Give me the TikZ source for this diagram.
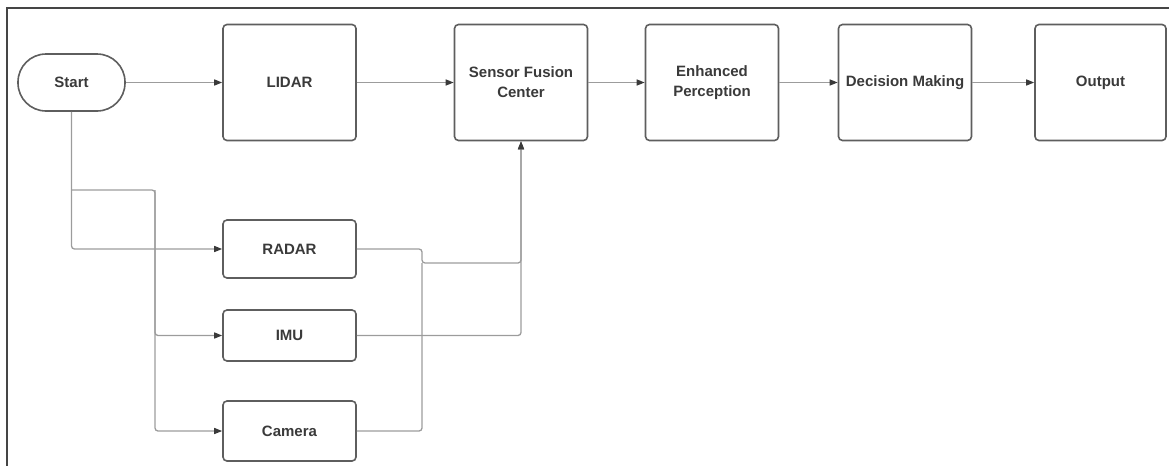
\documentclass[tikz,border=0pt]{standalone}
\usepackage{fontspec}
\setmainfont{Liberation Sans}
\usetikzlibrary{arrows.meta}
\definecolor{boxc}{HTML}{5E5E5E}
\definecolor{linec}{HTML}{9C9C9C}
\definecolor{tipc}{HTML}{3A3A3A}
\definecolor{txtc}{HTML}{3A3A3A}
\definecolor{framec}{HTML}{454545}
\begin{document}
\begin{tikzpicture}[x=1pt,y=-1pt,
  box/.style={draw=boxc,line width=1.6pt,rounded corners=4pt,inner sep=2pt,text=txtc,
    font=\fontsize{15}{20}\selectfont\bfseries,align=center,fill=white},
  conn/.style={draw=linec,line width=1.3pt,rounded corners=3pt,-{Triangle[length=8pt,width=6pt,color=tipc]}},
  plainline/.style={draw=linec,line width=1.3pt,rounded corners=3pt}]
\useasboundingbox (0,0) rectangle (1169,466);
\draw[framec,line width=2.5pt] (1169,8) -- (7,8) -- (7,466);
% main row
\node[box,rounded corners=28pt,minimum width=107,minimum height=57] (start) at (71.5,82.5) {Start};
\node[box,minimum width=133,minimum height=116] (lidar) at (289.5,82.5) {LIDAR};
\node[box,minimum width=133,minimum height=116] (sfc) at (521,82.5) {Sensor Fusion\\Center};
\node[box,minimum width=133,minimum height=116] (ep) at (712,82.5) {Enhanced\\Perception};
\node[box,minimum width=133,minimum height=116] (dm) at (905,82.5) {Decision Making};
\node[box,minimum width=131,minimum height=116] (out) at (1100.5,82.5) {Output};
% sensors
\node[box,minimum width=133,minimum height=58] (radar) at (289.5,249) {RADAR};
\node[box,minimum width=133,minimum height=51] (imu) at (289.5,335.5) {IMU};
\node[box,minimum width=133,minimum height=60] (cam) at (289.5,431) {Camera};
% helper coordinates
\coordinate (b1) at (71.5,190);
\coordinate (b2) at (155,190);
\coordinate (j) at (422,263);
% connectors
\draw[conn] (start) -- (lidar);
\draw[conn] (lidar) -- (sfc);
\draw[conn] (sfc) -- (ep);
\draw[conn] (ep) -- (dm);
\draw[conn] (dm) -- (out);
\draw[conn] (start.south) |- (radar.west);
\draw[conn] (b1) -- (b2) |- (imu.west);
\draw[conn] (b2) |- (cam.west);
\draw[conn] (radar.east) -- (radar.east -| j) -- (j) -- (j -| sfc.south) -- (sfc.south);
\draw[plainline] (cam.east) -| (j);
\draw[conn] (imu.east) -| (sfc.south);
\end{tikzpicture}
\end{document}
